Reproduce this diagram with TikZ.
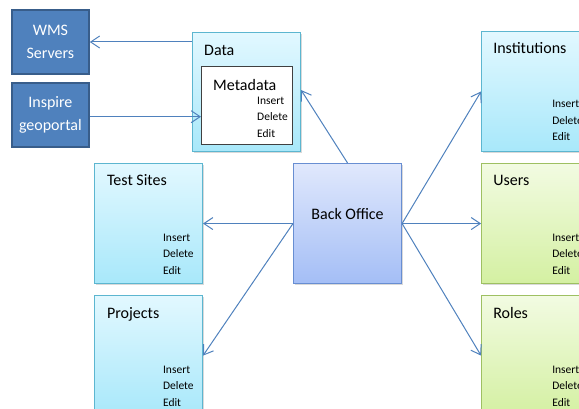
\documentclass[tikz,border=0pt]{standalone}
\usepackage{fontspec}
\setmainfont{Carlito}
\usetikzlibrary{positioning,arrows.meta,shadows}

\definecolor{linkblue}{RGB}{79,129,189}
\definecolor{darkfill}{RGB}{79,129,189}
\definecolor{darkedge}{RGB}{56,93,138}
\definecolor{cyantop}{RGB}{226,248,255}
\definecolor{cyanbot}{RGB}{168,232,250}
\definecolor{cyanedge}{RGB}{92,182,208}
\definecolor{greentop}{RGB}{242,251,226}
\definecolor{greenbot}{RGB}{212,240,162}
\definecolor{greenedge}{RGB}{158,192,98}
\definecolor{botop}{RGB}{224,232,252}
\definecolor{bobot}{RGB}{164,190,246}
\definecolor{boedge}{RGB}{104,142,210}

\tikzset{
	arr/.style={draw=linkblue, line width=1pt, -{Straight Barb[length=9pt,width=12pt]}},
	panel/.style={draw, line width=1.1pt, minimum width=108pt, minimum height=120pt, inner sep=0pt,
		drop shadow={shadow xshift=1.5pt, shadow yshift=-1.5pt, opacity=0.25, fill=black!60}},
	cyanpanel/.style={panel, draw=cyanedge, top color=cyantop, bottom color=cyanbot},
	greenpanel/.style={panel, draw=greenedge, top color=greentop, bottom color=greenbot},
	bopanel/.style={panel, draw=boedge, top color=botop, bottom color=bobot},
	darkbox/.style={draw=darkedge, line width=1.8pt, fill=darkfill, text=white, anchor=north west,
		minimum width=77pt, minimum height=64pt, align=center, font=\fontsize{16}{23}\selectfont},
	title/.style={inner sep=0pt, anchor=base west, font=\fontsize{16}{19}\selectfont},
	ops/.style={inner sep=0pt, anchor=north west, align=left, font=\fontsize{11.5}{16.5}\selectfont},
}

\begin{document}
\begin{tikzpicture}[x=1pt, y=-1pt]
	\useasboundingbox (0,0) rectangle (579,409);
	\clip (0,0) rectangle (579,409);
	
	% centre and the panels round it
	\node[bopanel, anchor=north west] (backoffice) at (293,163) {};
	\node[cyanpanel, left=90pt of backoffice] (testsites) {};
	\node[cyanpanel, below=11pt of testsites] (projects) {};
	\node[greenpanel, right=79pt of backoffice] (users) {};
	\node[greenpanel, below=11pt of users] (roles) {};
	\node[cyanpanel, above=11pt of users] (institutions) {};
	\node[cyanpanel, anchor=north west, minimum height=119pt] (data) at (192,32) {};
	\node[draw=black!75, line width=0.9pt, fill=white, anchor=north west, minimum width=91pt, minimum height=78pt, inner sep=0pt] (metadata) at (201,66) {};
	
	\node[darkbox] (wms) at (11,9) {WMS\\Servers};
	\node[darkbox, below=7pt of wms] (inspire) {Inspire\\geoportal};
	
	% labels
	\node[inner sep=0pt, font=\fontsize{16}{19}\selectfont] (bolabel) at ([yshift=10pt]backoffice.center) {Back Office};
	\node[title] (datalabel) at ([shift={(12,24)}]data.north west) {Data};
	\node[title] (metalabel) at ([shift={(12,25)}]metadata.north west) {Metadata};
	\node[title] (tslabel) at ([shift={(13,23)}]testsites.north west) {Test Sites};
	\node[title] (prlabel) at ([shift={(13,23)}]projects.north west) {Projects};
	\node[title] (inlabel) at ([shift={(12,23)}]institutions.north west) {Institutions};
	\node[title] (uslabel) at ([shift={(12,23)}]users.north west) {Users};
	\node[title] (rolabel) at ([shift={(12,23)}]roles.north west) {Roles};
	
	\node[ops] (metaops) at ([shift={(56,30.5)}]metadata.north west) {Insert\\Delete\\Edit};
	\node[ops] (tsops) at ([shift={(69,70.5)}]testsites.north west) {Insert\\Delete\\Edit};
	\node[ops] (props) at ([shift={(69,70.5)}]projects.north west) {Insert\\Delete\\Edit};
	\node[ops] (inops) at ([shift={(71,69.5)}]institutions.north west) {Insert\\Delete\\Edit};
	\node[ops] (usops) at ([shift={(71,70.5)}]users.north west) {Insert\\Delete\\Edit};
	\node[ops] (roops) at ([shift={(71,70.5)}]roles.north west) {Insert\\Delete\\Edit};
	
	\coordinate (dataout) at ([yshift=-10pt]data.north west);
	\coordinate (inspout) at ([yshift=-2pt]inspire.east);
	
	\draw[arr] (dataout) -- (wms.east |- dataout);
	\draw[arr] (inspout) -- (metadata.west |- inspout);
	\draw[arr] (backoffice.north) -- ([yshift=2pt]data.east);
	\draw[arr] (backoffice.west) -- (testsites.east);
	\draw[arr] (backoffice.west) -- (projects.east);
	\draw[arr] (backoffice.east) -- (institutions.west);
	\draw[arr] (backoffice.east) -- (users.west);
	\draw[arr] (backoffice.east) -- (roles.west);
\end{tikzpicture}
\end{document}
